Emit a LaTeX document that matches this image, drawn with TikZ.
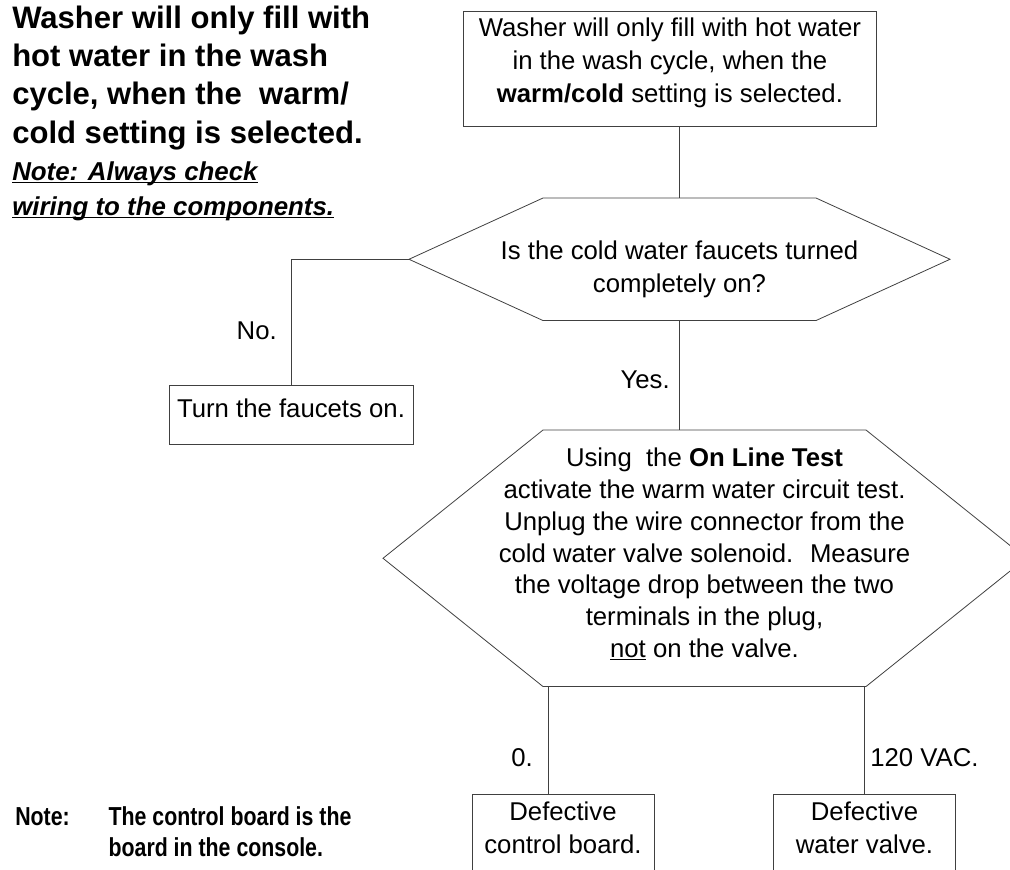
\documentclass[tikz,border=0pt]{standalone}
\usepackage{fontspec}
\setmainfont{Liberation Sans}
\newfontfamily\narrowbold[FakeStretch=0.82]{Liberation Sans Bold}
\usetikzlibrary{positioning, calc}

\newcommand\flowfont{\fontsize{19.3}{24.75}\selectfont}
\newcommand\stepfont{\fontsize{19.3}{23.8}\selectfont}
\newsavebox\ulbox
\newcommand\lowline[1]{\sbox\ulbox{#1}\rlap{\rule[-2.4pt]{\wd\ulbox}{1.2pt}}\usebox\ulbox}

\begin{document}
\begin{tikzpicture}[x=0.75pt, y=-0.75pt,
    bx/.style={rectangle, draw=black!75, line width=0.6pt, align=center, font=\flowfont,
               inner xsep=6pt, inner ysep=0pt},
    hx/.style={align=center, font=\flowfont, inner sep=0pt},
    ln/.style={draw=black!75, line width=0.6pt},
    lbl/.style={font=\flowfont, inner sep=0pt},
]
\useasboundingbox (0,0) rectangle (1010,869);
\clip (0,0) rectangle (1010,869);

% Heading and notes
\node[anchor=base west, align=left, inner sep=0pt,
      font=\fontsize{23.3}{28.75}\selectfont\bfseries] (head) at (12,143)
     {Washer will only fill with\\hot water in the wash\\cycle, when the~ warm/\\cold setting is selected.};
\node[anchor=base west, align=left, inner sep=0pt,
      font=\fontsize{19.4}{26.25}\selectfont\bfseries\itshape] (wire) at (12,215)
     {\lowline{Note: Always check}\\\lowline{wiring to the components.}};
\node[anchor=base west, align=left, inner sep=0pt,
      font=\fontsize{19.5}{23}\narrowbold] (cnote) at (15,856)
     {\makebox[70pt][l]{Note:}The control board is the\\\hspace*{70pt}board in the console.};

% Start
\node[bx, anchor=north west, minimum width=309.75pt, text height=68.25pt, text depth=18pt] (start) at (463,11)
     {Washer will only fill with hot water\\in the wash cycle, when the\\\textbf{warm/cold} setting is selected.};

% Questions
\node[hx, anchor=north, text height=70.5pt, text depth=21pt] (q1) at (679.5,198)
     {Is the cold water faucets turned\\completely on?};
\node[hx, font=\stepfont, anchor=north, text height=170.25pt, text depth=21.75pt] (q2) at (704.5,430)
     {Using~ the \textbf{On Line Test}\\activate the warm water circuit test.\\Unplug the wire connector from the\\cold water valve solenoid.~ Measure\\the voltage drop between the two\\terminals in the plug,\\\underline{not} on the valve.};

% hexagon corners
\coordinate (q1nw) at ($(q1.north)+(-136.5,0)$);
\coordinate (q1ne) at ($(q1.north)+(136.5,0)$);
\coordinate (q1sw) at ($(q1.south)+(-136.5,0)$);
\coordinate (q1se) at ($(q1.south)+(136.5,0)$);
\coordinate (q1w) at ($(q1.center)+(-270.5,0)$);
\coordinate (q1e) at ($(q1.center)+(270.5,0)$);
\coordinate (q2nw) at ($(q2.north)+(-161.5,0)$);
\coordinate (q2ne) at ($(q2.north)+(161.5,0)$);
\coordinate (q2sw) at ($(q2.south)+(-161.5,0)$);
\coordinate (q2se) at ($(q2.south)+(161.5,0)$);
\coordinate (q2w) at ($(q2.center)+(-321.5,0)$);
\coordinate (q2e) at ($(q2.center)+(321.5,0)$);
\draw[ln] (q1nw) -- (q1ne) -- (q1e) -- (q1se) -- (q1sw) -- (q1w) -- cycle;
\draw[ln] (q2nw) -- (q2ne) -- (q2e) -- (q2se) -- (q2sw) -- (q2w) -- cycle;

% Results
\node[bx, anchor=north, minimum width=180pt, text height=24pt, text depth=20.25pt] (tap) at (291,385)
     {Turn the faucets on.};
\node[bx, anchor=north, minimum width=136.5pt, text height=44.25pt, text depth=15.75pt] (ctl) at (563,794)
     {Defective\\control board.};
\node[bx, anchor=north, minimum width=136.5pt, text height=44.25pt, text depth=15.75pt] (valve) at (864.5,794)
     {Defective\\water valve.};

% Connectors
\draw[ln] (start.south -| q1.north) -- (q1.north);
\draw[ln] (q1w) -| (tap.north);
\draw[ln] (q1.south) -- (q1.south |- q2.north);
\draw[ln] ([xshift=3.75pt]q2sw) -- ([xshift=3.75pt]q2sw |- ctl.north);
\draw[ln] (q2.south -| valve.north) -- (valve.north);

% Answers
\node[lbl, anchor=base east] (no) at (277,339) {No.};
\node[lbl, anchor=base east] (yes) at (670,388) {Yes.};
\node[lbl, anchor=base east] (zero) at (533,766) {0.};
\node[lbl, anchor=base west] (vac) at (870,766) {120 VAC.};
\end{tikzpicture}
\end{document}
